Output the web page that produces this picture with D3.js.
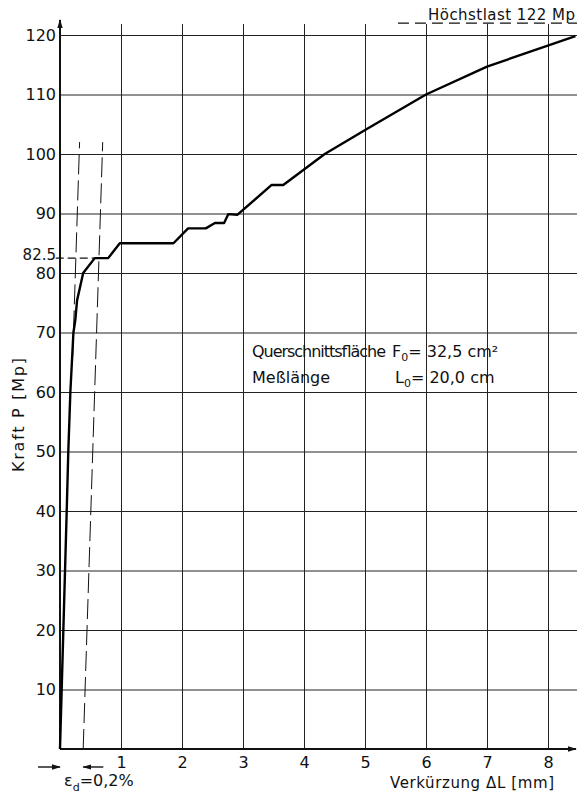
<!DOCTYPE html>
<html>
<head>
<meta charset="utf-8">
<script src="https://cdn.jsdelivr.net/npm/d3@7"></script>
<style>
  body { margin: 0; background: #fff; }
  svg { display: block; }
  text { font-family: "DejaVu Sans", sans-serif; fill: #111; }
</style>
</head>
<body>
<div id="chart"></div>
<script>
var width = 577;
var height = 796;

// measured curve: Verkürzung [mm] vs Kraft [Mp]
var deformation = [0, 0.11, 0.136, 0.17, 0.22, 0.25, 0.28, 0.33, 0.38, 0.57, 0.79, 0.98, 1.86, 2.1, 2.39, 2.54, 2.69, 2.76, 2.91, 3.47, 3.66, 4.34, 5.03, 6.0, 7.0, 8.45];
var force = [0, 40, 50, 60, 70, 72, 75.4, 77.7, 80, 82.5, 82.5, 85, 85, 87.5, 87.5, 88.4, 88.4, 89.9, 89.8, 94.8, 94.8, 100, 104.2, 110, 114.7, 119.8];

// elastic line and the 0,2% offset line
var elasticDef = [0.208, 0.321];
var elasticForce = [66, 102];
var offsetDef = [0.38, 0.70];
var offsetForce = [0, 102];

var proofLoad = 82.5;
var proofDef = [-0.07, 0.57];
var maxLoad = 122;
var maxDef = [5.54, 8.5];

var xTicks = [1, 2, 3, 4, 5, 6, 7, 8];
var yTicks = [10, 20, 30, 40, 50, 60, 70, 80, 90, 100, 110, 120];

var x = d3.scaleLinear().domain([0, 8]).range([60, 548]);
var y = d3.scaleLinear().domain([0, 120]).range([749, 35]);

var svg = d3.select("#chart")
            .append("svg")
            .attr("width", width)
            .attr("height", height);

// grid + tick labels
var yAxis = d3.axisLeft(y)
              .tickValues(yTicks)
              .tickSize(-(width - x(0)))
              .tickPadding(4)
              .tickFormat(d3.format("d"));
var gy = svg.append("g")
            .attr("transform", "translate(" + x(0) + ",0)")
            .call(yAxis);
gy.select(".domain").remove();
gy.selectAll("line").attr("stroke", "#222").attr("stroke-width", 1);
gy.selectAll("text").style("font-size", "16px").attr("fill", "#111");

var xAxis = d3.axisBottom(x)
              .tickValues(xTicks)
              .tickSize(-(y(0) - 24))
              .tickPadding(8)
              .tickFormat(d3.format("d"));
var gx = svg.append("g")
            .attr("transform", "translate(0," + y(0) + ")")
            .call(xAxis);
gx.select(".domain").remove();
gx.selectAll("line").attr("stroke", "#222").attr("stroke-width", 1);
gx.selectAll("text").style("font-size", "16px").attr("fill", "#111");

// arrow head
svg.append("defs").append("marker")
   .attr("id", "arr")
   .attr("viewBox", "0 0 10 10")
   .attr("refX", 9).attr("refY", 5)
   .attr("markerWidth", 9).attr("markerHeight", 9)
   .attr("markerUnits", "userSpaceOnUse")
   .attr("orient", "auto")
   .append("path")
   .attr("d", "M0,2 L10,5 L0,8 z")
   .attr("fill", "#111");

// axes
svg.append("line")
   .attr("x1", x(0)).attr("y1", y(0))
   .attr("x2", 576).attr("y2", y(0))
   .attr("stroke", "#111").attr("stroke-width", 2)
   .attr("marker-end", "url(#arr)");
svg.append("line")
   .attr("x1", x(0)).attr("y1", y(0))
   .attr("x2", x(0)).attr("y2", 20)
   .attr("stroke", "#111").attr("stroke-width", 2)
   .attr("marker-end", "url(#arr)");

var line = d3.line().x(d => x(d[0])).y(d => y(d[1]));

// dashed construction lines
svg.append("path")
   .attr("d", line(d3.zip(elasticDef, elasticForce)))
   .attr("fill", "none").attr("stroke", "#111").attr("stroke-width", 1)
   .attr("stroke-dasharray", "20,6");
svg.append("path")
   .attr("d", line(d3.zip(offsetDef, offsetForce)))
   .attr("fill", "none").attr("stroke", "#111").attr("stroke-width", 1)
   .attr("stroke-dasharray", "20,6");
svg.append("path")
   .attr("d", line(proofDef.map(d => [d, proofLoad])))
   .attr("fill", "none").attr("stroke", "#111").attr("stroke-width", 1.2)
   .attr("stroke-dasharray", "8,4");
svg.append("path")
   .attr("d", line(maxDef.map(d => [d, maxLoad])))
   .attr("fill", "none").attr("stroke", "#111").attr("stroke-width", 1.2)
   .attr("stroke-dasharray", "11,6");

// the curve
svg.append("path")
   .attr("d", line(d3.zip(deformation, force)))
   .attr("fill", "none")
   .attr("stroke", "#000")
   .attr("stroke-width", 2.4)
   .attr("stroke-linejoin", "round");

// labels
svg.append("text")
   .text("82.5")
   .attr("x", 56).attr("y", y(proofLoad) + 2)
   .attr("text-anchor", "end")
   .style("font-size", "15px");

svg.append("text")
   .text("Höchstlast  122 Mp")
   .attr("x", 428).attr("y", 20)
   .attr("textLength", 147)
   .style("font-size", "15px");

svg.append("text")
   .text("Kraft  P  [Mp]")
   .attr("transform", "translate(24,415) rotate(-90)")
   .attr("text-anchor", "middle")
   .attr("textLength", 114)
   .style("font-size", "16px");

svg.append("text")
   .text("Verkürzung  ΔL [mm]")
   .attr("x", 390).attr("y", 788)
   .attr("textLength", 164)
   .style("font-size", "15px");

var info = svg.append("g").style("font-size", "16px");
info.append("text").text("Querschnittsfläche").attr("x", 252).attr("y", 357).attr("textLength", 134);
info.append("text").text("Meßlänge").attr("x", 252).attr("y", 383);
var f0 = info.append("text").attr("x", 392).attr("y", 357);
f0.append("tspan").text("F");
f0.append("tspan").text("0").attr("dy", 4).style("font-size", "11px");
f0.append("tspan").text("= 32,5 cm²").attr("dy", -4);
var l0 = info.append("text").attr("x", 395).attr("y", 383);
l0.append("tspan").text("L");
l0.append("tspan").text("0").attr("dy", 4).style("font-size", "11px");
l0.append("tspan").text("= 20,0 cm").attr("dy", -4);

// ε_d = 0,2 % indicator
svg.append("line")
   .attr("x1", x(-0.36)).attr("y1", 767)
   .attr("x2", x(0)).attr("y2", 767)
   .attr("stroke", "#111").attr("stroke-width", 1.4)
   .attr("marker-end", "url(#arr)");
svg.append("line")
   .attr("x1", x(0.71)).attr("y1", 767)
   .attr("x2", x(offsetDef[0])).attr("y2", 767)
   .attr("stroke", "#111").attr("stroke-width", 1.4)
   .attr("marker-end", "url(#arr)");
var eps = svg.append("text").attr("x", 64).attr("y", 786).style("font-size", "16px");
eps.append("tspan").text("ε");
eps.append("tspan").text("d").attr("dy", 5).style("font-size", "11px");
eps.append("tspan").text("=0,2%").attr("dy", -5);
</script>
</body>
</html>
